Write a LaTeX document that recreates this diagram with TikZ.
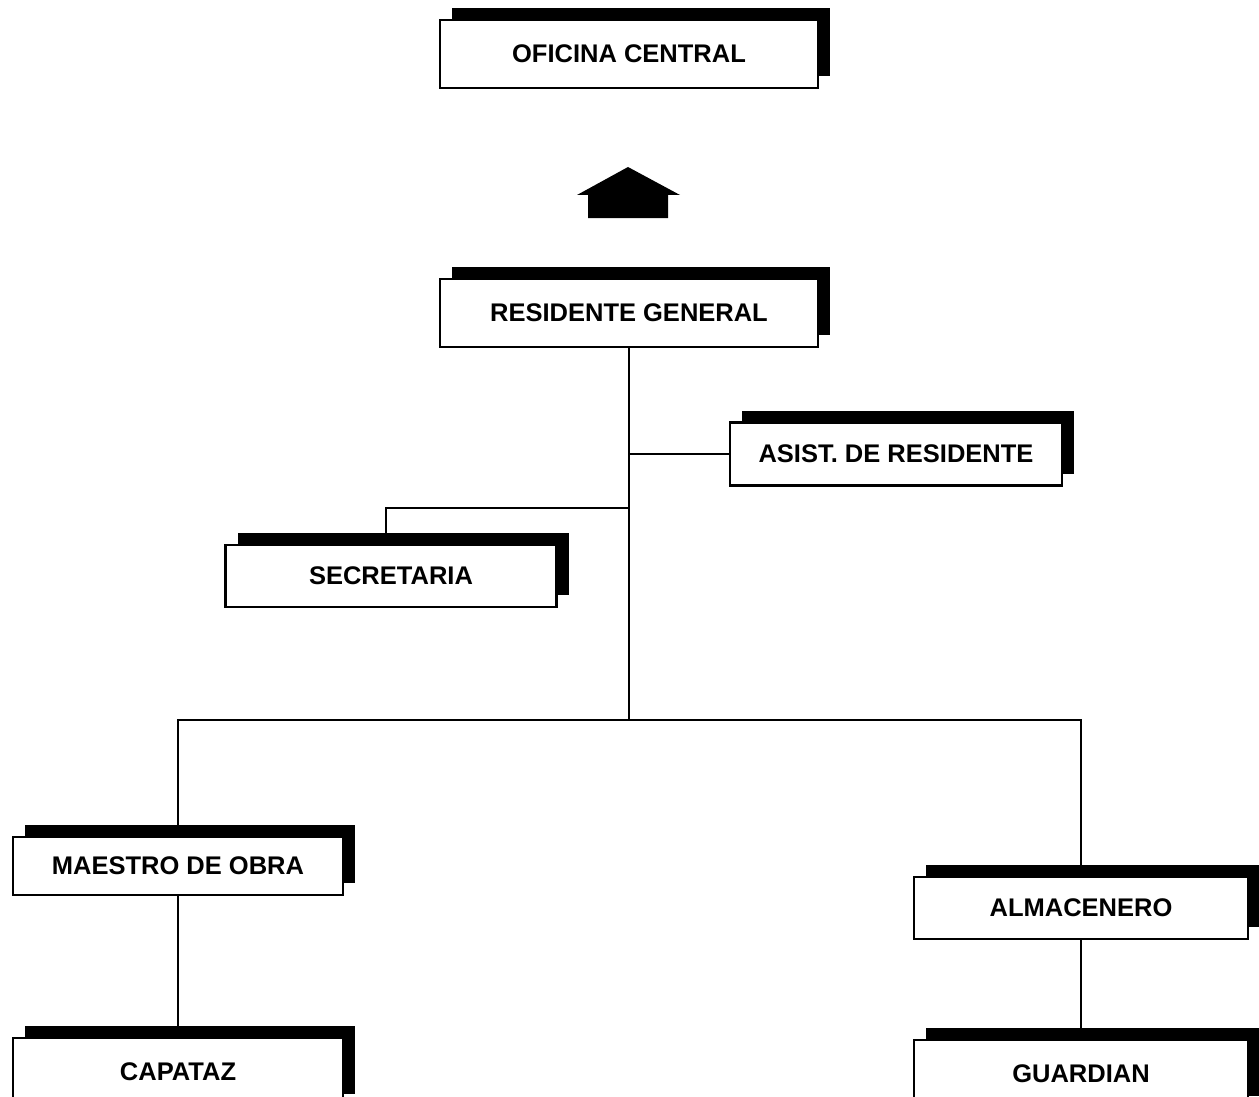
\documentclass[tikz,border=0pt]{standalone}
\usepackage{fontspec}
\setmainfont{Liberation Sans}
\usetikzlibrary{shadows}
\begin{document}
\begin{tikzpicture}[
        x=1pt, y=-1pt,
        line width=2.8pt,
        puesto/.style={draw, fill=white, font=\fontsize{25.5}{30}\selectfont\bfseries,
            inner sep=0pt, minimum height=64pt,
            drop shadow={shadow xshift=12pt, shadow yshift=12pt, fill=black, opacity=1}}
    ]
        \useasboundingbox (0,0) rectangle (1259,1097);
        \node[puesto, minimum width=378pt, minimum height=68pt] (ofi) at (629,54)
            {OFICINA CENTRAL};
        \fill (628,167) -- (680,195) -- (668,195) -- (668,218) -- (588,218)
            -- (588,195) -- (577,195) -- cycle;
        \node[puesto, minimum width=378pt, minimum height=68pt] (res) at (629,313)
            {RESIDENTE GENERAL};
        \node[puesto, minimum width=332pt, minimum height=63pt] (asis) at (896,454)
            {ASIST. DE RESIDENTE};
        \node[puesto, minimum width=331pt, minimum height=62pt] (sec) at (391,576)
            {SECRETARIA};
        \node[puesto, minimum width=330pt, minimum height=58pt] (mae) at (178,866)
            {MAESTRO DE OBRA};
        \node[puesto, minimum width=334pt, minimum height=62pt] (alm) at (1081,908)
            {ALMACENERO};
        \node[puesto, minimum width=330pt, minimum height=68pt] (cap) at (178,1072)
            {CAPATAZ};
        \node[puesto, minimum width=334pt, minimum height=68pt] (gua) at (1081,1074)
            {GUARDIAN};
        \coordinate (secj) at (629,508);
        \coordinate (bus) at (629,720);
        \draw (res.south) -- (bus);
        \draw (asis.west) -- (asis.west -| res.south);
        \draw (secj) -| ([xshift=-5pt]sec.north);
        \draw (mae.north) |- (bus) -| (alm.north);
        \draw (mae) -- (cap);
        \draw (alm) -- (gua);
    \end{tikzpicture}
\end{document}
